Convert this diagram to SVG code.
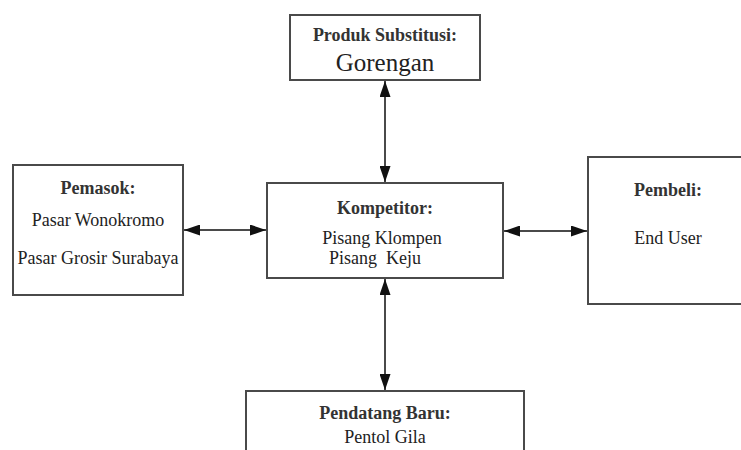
<svg xmlns="http://www.w3.org/2000/svg" width="741" height="450" viewBox="0 0 741 450">
<defs>
<marker id="ah" viewBox="0 0 16 11" refX="16" refY="5.5" markerWidth="16" markerHeight="11" markerUnits="userSpaceOnUse" orient="auto-start-reverse">
<path d="M0,0 L16,5.5 L0,11 Z" fill="#111"/>
</marker>
</defs>
<style>
.box{fill:#fff;stroke:#4a4a4a;stroke-width:2}
.t{font-family:"Liberation Serif","Times New Roman",serif;font-size:18px;fill:#222;text-anchor:middle}
.b{font-family:"Liberation Serif","Times New Roman",serif;font-size:18px;font-weight:bold;fill:#333;text-anchor:middle}
.c{stroke:#4a4a4a;stroke-width:2;fill:none;marker-start:url(#ah);marker-end:url(#ah)}
</style>
<rect width="741" height="450" fill="#fff"/>
<g id="connectors">
<line class="c" x1="385" y1="81" x2="385" y2="182"/>
<line class="c" x1="184" y1="230" x2="266" y2="230"/>
<line class="c" x1="504" y1="231" x2="587" y2="231"/>
<line class="c" x1="385" y1="279" x2="385" y2="390"/>
</g>
<g id="produk">
<rect class="box" x="290" y="15" width="190" height="65"/>
<text class="b" x="385" y="41">Produk Substitusi:</text>
<text class="t" x="385" y="71" style="font-size:25px">Gorengan</text>
</g>
<g id="pemasok">
<rect class="box" x="13" y="165" width="170" height="130"/>
<text class="b" x="98" y="194">Pemasok:</text>
<text class="t" x="98" y="226">Pasar Wonokromo</text>
<text class="t" x="98" y="264">Pasar Grosir Surabaya</text>
</g>
<g id="kompetitor">
<rect class="box" x="267" y="183" width="236" height="95"/>
<text class="b" x="385" y="214">Kompetitor:</text>
<text class="t" x="382" y="244">Pisang Klompen</text>
<text class="t" x="375" y="264" xml:space="preserve">Pisang  Keju</text>
</g>
<g id="pembeli">
<rect class="box" x="588" y="157" width="160" height="147"/>
<text class="b" x="668" y="196">Pembeli:</text>
<text class="t" x="668" y="244">End User</text>
</g>
<g id="pendatang">
<rect class="box" x="246" y="391" width="278" height="70"/>
<text class="b" x="385" y="419">Pendatang Baru:</text>
<text class="t" x="385" y="443">Pentol Gila</text>
</g>
</svg>
